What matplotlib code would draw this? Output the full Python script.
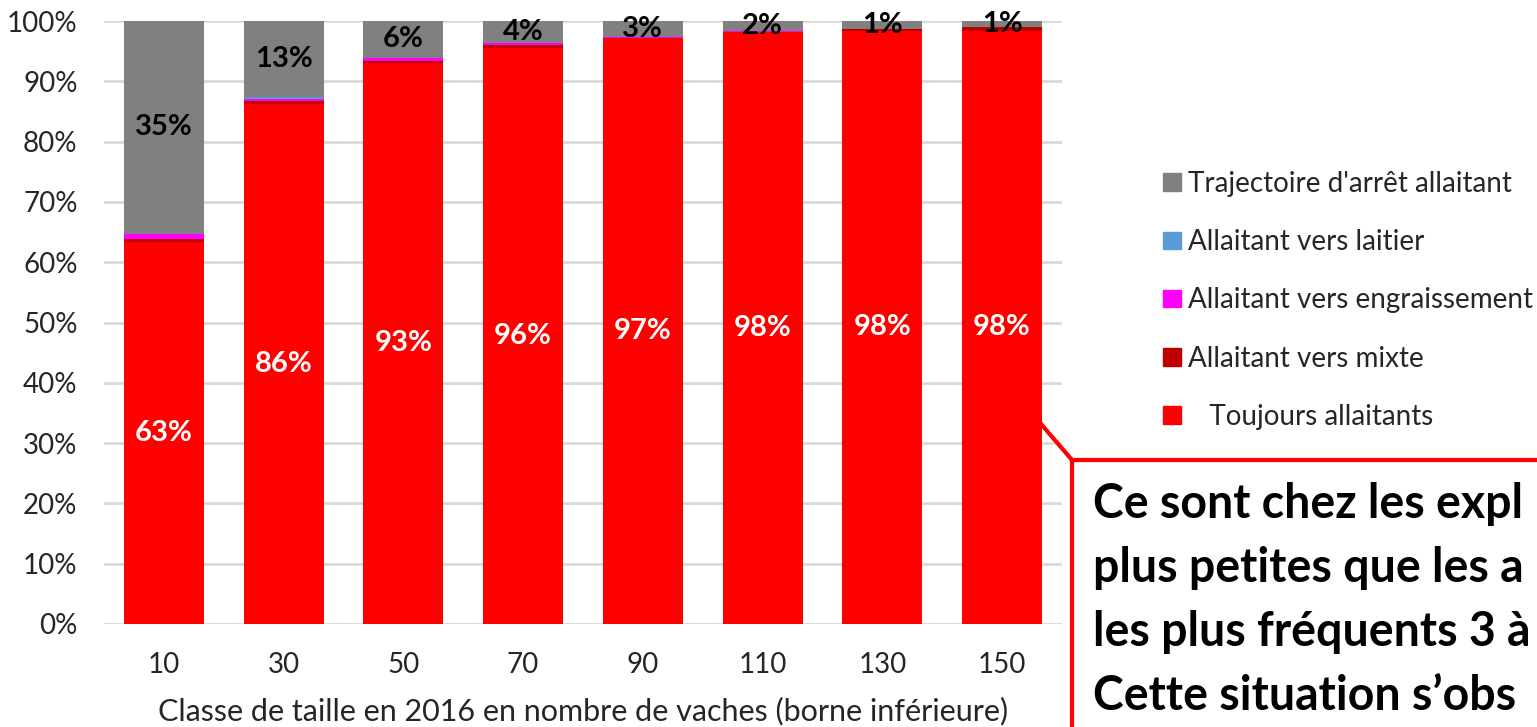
import numpy as np
import matplotlib.pyplot as plt
from matplotlib.patches import Patch, Rectangle
from matplotlib.lines import Line2D

plt.rcParams['font.family'] = ['Lato', 'DejaVu Sans']

# size classes (lower bound, number of cows in 2016)
classes = ['10', '30', '50', '70', '90', '110', '130', '150']

# shares in % per trajectory
toujours = [63.4, 86.2, 93.1, 95.6, 97.1, 98.1, 98.4, 98.4]
mixte = [0.5, 0.5, 0.3, 0.4, 0.1, 0.1, 0.3, 0.6]
engraissement = [0.8, 0.4, 0.5, 0.3, 0.2, 0.2, 0.0, 0.0]
laitier = [0.0, 0.3, 0.0, 0.0, 0.0, 0.0, 0.0, 0.0]
arret = [35.3, 12.6, 6.1, 3.7, 2.6, 1.6, 1.3, 1.0]

series = [
    ('   Toujours allaitants', toujours, '#FF0000'),
    ('Allaitant vers mixte', mixte, '#C00000'),
    ('Allaitant vers engraissement', engraissement, '#FF00FF'),
    ('Allaitant vers laitier', laitier, '#5B9BD5'),
    ("Trajectoire d'arrêt allaitant", arret, '#808080'),
]

# callout text, only the part visible in the slide
callout = ['Ce sont chez les expl',
           'plus petites que les a',
           'les plus fréquents 3 à',
           'Cette situation s’obs']

W, H = 1537, 727
fig = plt.figure(figsize=(W / 100, H / 100), dpi=100)
ax = fig.add_axes([104 / W, 103 / H, 958 / W, 603 / H])

x = np.arange(len(classes))
bottom = np.zeros(len(classes))
containers = []
for name, vals, col in series:
    bc = ax.bar(x, vals, width=0.67, bottom=bottom, color=col, label=name, zorder=2)
    containers.append(bc)
    bottom += np.array(vals)

ax.bar_label(containers[0], labels=[f'{v:.0f}%' for v in toujours], label_type='center',
             color='white', fontsize=21, fontweight='bold')
ax.bar_label(containers[-1], labels=[f'{v:.0f}%' for v in arret], label_type='center',
             color='black', fontsize=21, fontweight='bold')

ax.set_xlim(-0.5, len(classes) - 0.5)
ax.set_ylim(0, 100)
ax.set_yticks(np.arange(0, 101, 10))
ax.set_yticklabels([f'{t}%' for t in range(0, 101, 10)])
ax.set_xticks(x)
ax.set_xticklabels(classes)
ax.tick_params(length=0, labelsize=20, colors='#262626')
ax.tick_params(axis='x', pad=20)
ax.tick_params(axis='y', pad=19)
ax.yaxis.grid(True, color='#D9D9D9', lw=2, zorder=0)
for s in ax.spines.values():
    s.set_visible(False)
ax.set_xlabel('Classe de taille en 2016 en nombre de vaches (borne inférieure)',
              fontsize=22, color='#262626', labelpad=14)

handles = [Patch(color=c) for _, _, c in series][::-1]
labels = [n for n, _, _ in series][::-1]
fig.legend(handles, labels, loc='upper left', bbox_to_anchor=(1163 / W, 1 - 171 / H),
           frameon=False, fontsize=20, handlelength=0.65, handleheight=0.6,
           handletextpad=0.25, labelspacing=1.16, borderaxespad=0, borderpad=0,
           labelcolor='#262626')

# callout box with leader line
fig.add_artist(Line2D([1041 / W, 1072 / W], [1 - 424 / H, 1 - 460 / H],
                      transform=fig.transFigure, color='red', lw=3))
fig.add_artist(Rectangle((1072 / W, -0.2), 1, 0.2 + (H - 460) / H, transform=fig.transFigure,
                         fill=False, edgecolor='red', lw=3))
for i, line in enumerate(callout):
    fig.text(1093 / W, 1 - (518 + 64 * i) / H, line, fontsize=33.5, fontweight='bold',
             va='baseline', ha='left', color='black')

fig.savefig('out.png', dpi=100)
